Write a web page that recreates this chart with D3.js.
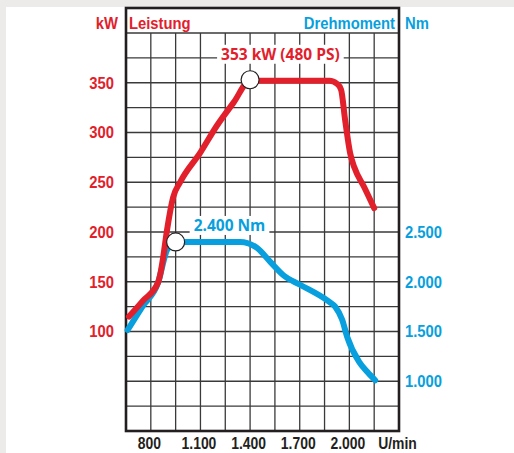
<!DOCTYPE html>
<html><head><meta charset="utf-8">
<script src="https://cdn.jsdelivr.net/npm/d3@7"></script>
<style>
html,body{margin:0;padding:0;background:#ecebe9;}
svg{display:block;}
.cond{font-family:'Liberation Sans',Arial,sans-serif;font-weight:bold;}
.ann{font-family:'Open Sans','Noto Sans',sans-serif;font-weight:700;}
</style></head>
<body>
<script>
// ---- data ----
const rpmTicks = [800, 1100, 1400, 1700, 2000, 2300];
const rpmTickLabels = ["800", "1.100", "1.400", "1.700", "2.000", "U/min"];
const powerTicks = [100, 150, 200, 250, 300, 350];
const torqueTicks = [1000, 1500, 2000, 2500];
const torqueTickLabels = ["1.000", "1.500", "2.000", "2.500"];

const powerRpm = [668, 753, 843, 860, 875, 898, 935, 977, 1100, 1200, 1300, 1400, 1880, 1925, 1950, 1974, 2005, 2030, 2090, 2150];
const powerKW  = [115, 131, 149, 160, 175, 202, 235, 250, 280, 307, 330, 352, 352, 349, 343, 313, 279, 265, 245, 224];

const torqueRpm = [660, 753, 843, 898, 935, 950, 1340, 1442, 1522, 1605, 1702, 1877, 1914, 1956, 1987, 2059, 2108, 2156];
const torqueNm  = [1515, 1760, 1987, 2319, 2380, 2400, 2400, 2340, 2200, 2060, 1970, 1800, 1750, 1620, 1445, 1195, 1095, 1010];

const powerPeak = {rpm: 1400, value: 353, label: "353 kW (480 PS)"};
const torquePeak = {rpm: 950, value: 2400, label: "2.400 Nm"};

const titles = {powerUnit: "kW", power: "Leistung", torque: "Drehmoment", torqueUnit: "Nm"};

// ---- drawing ----
const W = 514, H = 453;
const RED = "#e2202b", BLUE = "#079fdd";
const SX = 0.87;
const svg = d3.select("body").append("svg").attr("width", W).attr("height", H);
svg.append("rect").attr("x", 6).attr("y", 7).attr("width", W - 6).attr("height", H - 7).attr("fill", "#fff");

const L = 126, R = 399, T = 8, B = 431;
const x = d3.scaleLinear().domain([650, 2300]).range([L, R]);
const yP = d3.scaleLinear().domain([0, 400]).range([B, 33]);
const yT = d3.scaleLinear().domain([500, 4500]).range([B, 33]);

const grid = svg.append("g").attr("stroke", "#3a3a3a").attr("stroke-width", 1.3);
d3.range(800, 2300, 150).forEach(r => {
  grid.append("line").attr("x1", x(r)).attr("x2", x(r)).attr("y1", yP(400)).attr("y2", B);
});
d3.range(25, 401, 25).forEach(v => {
  grid.append("line").attr("x1", L).attr("x2", R).attr("y1", yP(v)).attr("y2", yP(v));
});
svg.append("rect").attr("x", L).attr("y", T).attr("width", R - L).attr("height", B - T)
  .attr("fill", "none").attr("stroke", "#231f20").attr("stroke-width", 2.6);

// header titles
function ctext(px, py, anchor, color, label) {
  svg.append("text").attr("class", "cond").attr("transform", `translate(${px},${py}) scale(${SX},1)`)
    .attr("text-anchor", anchor).attr("fill", color).attr("font-size", 17).text(label);
}
ctext(118, 29, "end", RED, titles.powerUnit);
ctext(129, 29, "start", RED, titles.power);
ctext(395, 29, "end", BLUE, titles.torque);
ctext(405, 29, "start", BLUE, titles.torqueUnit);

function styleAxis(g, color) {
  g.select(".domain").remove();
  g.selectAll("text").attr("class", "cond").attr("fill", color).attr("font-size", 17)
    .attr("font-family", null).attr("transform", `scale(${SX},1)`);
}
const leftAxis = d3.axisLeft(yP).tickValues(powerTicks).tickSize(0).tickPadding(0);
styleAxis(svg.append("g").attr("transform", "translate(114,0)").call(leftAxis), RED);

const rightAxis = d3.axisRight(yT).tickValues(torqueTicks).tickSize(0).tickPadding(0)
  .tickFormat((d, i) => torqueTickLabels[i]);
styleAxis(svg.append("g").attr("transform", "translate(405,0)").call(rightAxis), BLUE);

const bottomAxis = d3.axisBottom(x).tickValues(rpmTicks).tickSize(0).tickPadding(0)
  .tickFormat((d, i) => rpmTickLabels[i]);
const gb = svg.append("g").attr("transform", "translate(-2,0)").call(bottomAxis);
styleAxis(gb, "#231f20");
gb.selectAll("text").attr("y", 449).attr("dy", null).attr("font-size", 16);

// curves
const pData = powerRpm.map((r, i) => [r, powerKW[i]]);
const tData = torqueRpm.map((r, i) => [r, torqueNm[i]]);
const lineP = d3.line().x(d => x(d[0])).y(d => yP(d[1])).curve(d3.curveMonotoneX);
const lineT = d3.line().x(d => x(d[0])).y(d => yT(d[1])).curve(d3.curveMonotoneX);

svg.append("path").attr("d", lineT(tData)).attr("fill", "none").attr("stroke", BLUE)
  .attr("stroke-width", 6).attr("stroke-linecap", "round").attr("stroke-linejoin", "round");
svg.append("path").attr("d", lineP(pData)).attr("fill", "none").attr("stroke", RED)
  .attr("stroke-width", 6).attr("stroke-linecap", "round").attr("stroke-linejoin", "round");

// annotations
function annot(px, py, label, color, dx, dy) {
  const t = svg.append("text").attr("class", "ann").attr("x", px + dx).attr("y", py + dy)
    .attr("fill", color).attr("font-size", 15.5).text(label);
  const bb = t.node().getBBox();
  svg.insert("rect", function(){ return t.node(); })
    .attr("x", bb.x - 4).attr("y", bb.y + 2).attr("width", bb.width + 8).attr("height", bb.height - 3).attr("fill", "#fff");
}
annot(x(powerPeak.rpm), yP(powerPeak.value), powerPeak.label, RED, -29, -20);
annot(x(torquePeak.rpm), yT(torquePeak.value), torquePeak.label, BLUE, 18, -11);

svg.append("circle").attr("cx", x(powerPeak.rpm)).attr("cy", yP(powerPeak.value)).attr("r", 9)
  .attr("fill", "#fff").attr("stroke", "#231f20").attr("stroke-width", 1.2);
svg.append("circle").attr("cx", x(torquePeak.rpm)).attr("cy", yT(torquePeak.value)).attr("r", 9)
  .attr("fill", "#fff").attr("stroke", "#231f20").attr("stroke-width", 1.2);
</script>
</body></html>
